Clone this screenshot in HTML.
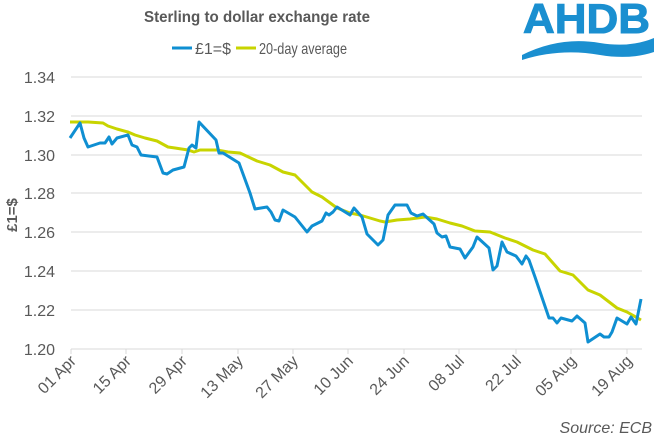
<!DOCTYPE html>
<html><head><meta charset="utf-8"><style>
html,body{margin:0;padding:0;background:#fff;}
svg{display:block;font-family:"Liberation Sans",Arial,sans-serif;}
</style></head><body>
<svg width="663" height="446" viewBox="0 0 663 446" xmlns="http://www.w3.org/2000/svg">
<rect width="663" height="446" fill="#fff"/>
<text x="257" y="22" text-anchor="middle" font-size="16" font-weight="bold" fill="#595959" textLength="226" lengthAdjust="spacingAndGlyphs">Sterling to dollar exchange rate</text>
<line x1="172" y1="48" x2="192" y2="48" stroke="#0f8fd2" stroke-width="3"/>
<text x="195" y="54" font-size="16" fill="#595959">£1=$</text>
<line x1="236" y1="48" x2="256" y2="48" stroke="#c8d400" stroke-width="3"/>
<text x="259" y="54" font-size="16" fill="#595959" textLength="88" lengthAdjust="spacingAndGlyphs">20-day average</text>
<!-- logo -->
<text x="523" y="33" font-size="42" font-weight="bold" fill="#1a8fd0" textLength="127" lengthAdjust="spacingAndGlyphs" stroke="#1a8fd0" stroke-width="1">AHDB</text>
<path d="M522,55 Q560,36 600,43 Q630,48 654,38 L654,52 Q630,60 600,55 Q560,48 522,60 Z" fill="#1a8fd0"/>
<!-- grid -->
<g stroke="#d9d9d9" stroke-width="1">
<line x1="71" y1="77" x2="642" y2="77"/>
<line x1="71" y1="116" x2="642" y2="116"/>
<line x1="71" y1="155" x2="642" y2="155"/>
<line x1="71" y1="193" x2="642" y2="193"/>
<line x1="71" y1="232" x2="642" y2="232"/>
<line x1="71" y1="271" x2="642" y2="271"/>
<line x1="71" y1="310" x2="642" y2="310"/>
<line x1="71" y1="349" x2="642" y2="349"/>
<line x1="71" y1="349" x2="71" y2="354"/><line x1="126" y1="349" x2="126" y2="354"/>
<line x1="182" y1="349" x2="182" y2="354"/><line x1="238" y1="349" x2="238" y2="354"/>
<line x1="293" y1="349" x2="293" y2="354"/><line x1="348" y1="349" x2="348" y2="354"/>
<line x1="404" y1="349" x2="404" y2="354"/><line x1="459" y1="349" x2="459" y2="354"/>
<line x1="516" y1="349" x2="516" y2="354"/><line x1="571" y1="349" x2="571" y2="354"/>
<line x1="627" y1="349" x2="627" y2="354"/>
</g>
<g font-size="16" fill="#595959" text-anchor="end">
<text x="55" y="83">1.34</text><text x="55" y="122">1.32</text><text x="55" y="161">1.30</text>
<text x="55" y="199">1.28</text><text x="55" y="238">1.26</text><text x="55" y="277">1.24</text>
<text x="55" y="316">1.22</text><text x="55" y="355">1.20</text>
</g>
<text transform="translate(17,215) rotate(-90)" text-anchor="middle" font-size="15" font-weight="bold" fill="#595959">£1=$</text>
<g font-size="16" fill="#595959" text-anchor="end">
<text transform="translate(77,362) rotate(-45)">01 Apr</text>
<text transform="translate(132,362) rotate(-45)">15 Apr</text>
<text transform="translate(188,362) rotate(-45)">29 Apr</text>
<text transform="translate(244,362) rotate(-45)">13 May</text>
<text transform="translate(299,362) rotate(-45)">27 May</text>
<text transform="translate(354,362) rotate(-45)">10 Jun</text>
<text transform="translate(410,362) rotate(-45)">24 Jun</text>
<text transform="translate(465,362) rotate(-45)">08 Jul</text>
<text transform="translate(522,362) rotate(-45)">22 Jul</text>
<text transform="translate(577,362) rotate(-45)">05 Aug</text>
<text transform="translate(633,362) rotate(-45)">19 Aug</text>
</g>
<text x="652" y="433" text-anchor="end" font-size="16" font-style="italic" fill="#595959">Source: ECB</text>
<polyline fill="none" stroke="#c8d400" stroke-width="3" stroke-linejoin="round" points="70,122 88,122 103,123 108,126 117,129 128,132 135,135 145,138 157,141 168,147 175,148 188,150 194,152 200,150 217,150 228,152 240,153 257,161 270,165 283,172 295,175 312,192 322,197 337,208 350,213 360,215 380,221 385,222 397,220 410,219 425,217 437,219 450,223 462,226 475,231 490,232 505,238 517,242 533,250 545,254 560,271 573,275 588,290 600,295 617,308 627,312 641,320"/>
<polyline fill="none" stroke="#0f8fd2" stroke-width="3" stroke-linejoin="round" points="70,138 80,123 84,138 88,147 100,143 105,143 109,137 112,144 117,138 128,135 132,145 137,147 141,155 157,157 163,173 167,174 173,170 184,167 189,148 192,145 196,148 199,122 216,140 219,153 223,153 239,163 250,193 255,209 267,207 271,212 275,220 279,221 283,210 295,217 307,232 312,226 322,221 326,213 329,215 333,212 337,207 350,215 354,208 362,217 367,234 378,245 383,240 388,215 395,205 407,205 411,213 417,216 423,214 434,224 437,233 442,237 446,236 450,247 460,249 465,258 473,247 477,237 489,248 493,270 497,266 502,242 507,252 516,256 522,264 526,256 529,260 535,277 549,318 553,318 557,323 561,318 572,321 577,316 585,323 588,342 600,334 604,337 609,337 612,332 617,318 627,324 631,317 636,324 641,299"/>
</svg>
</body></html>
